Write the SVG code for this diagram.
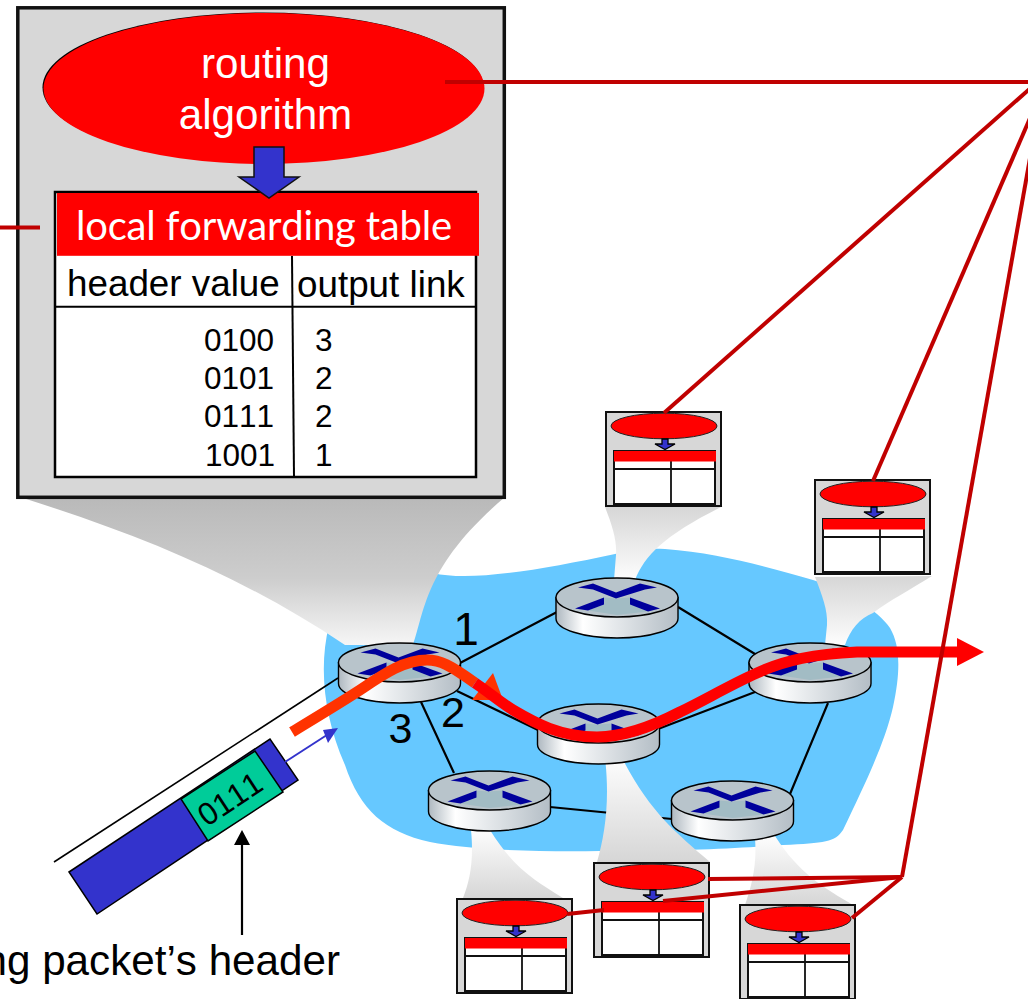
<svg xmlns="http://www.w3.org/2000/svg" xmlns:xlink="http://www.w3.org/1999/xlink" width="1028" height="999" viewBox="0 0 1028 999">
<style>
text{font-family:"Liberation Sans",Arial,sans-serif;fill:#000;font-kerning:none}
.link{stroke:#000;stroke-width:2.2;fill:none}
.ctl{stroke:#c00000;stroke-width:4;fill:none}
.num{font-size:31.5px}
.hdr{font-size:36.8px}
.lbl{font-size:42.2px}
.port{font-size:43px}
.wht{fill:#fff}
</style>
<defs>
<linearGradient id="bigCone" x1="0" y1="0" x2="0" y2="1"><stop offset="0" stop-color="#b9b9b9"/><stop offset=".55" stop-color="#cdcdcd"/><stop offset="1" stop-color="#f6f6f6"/></linearGradient>
<linearGradient id="coneDown" x1="0" y1="0" x2="0" y2="1"><stop offset="0" stop-color="#d6d6d6"/><stop offset="1" stop-color="#fdfdfd"/></linearGradient>
<linearGradient id="coneUp" x1="0" y1="1" x2="0" y2="0"><stop offset="0" stop-color="#d6d6d6"/><stop offset="1" stop-color="#fdfdfd"/></linearGradient>
<linearGradient id="body" x1="0" y1="0" x2="1" y2="0"><stop offset="0" stop-color="#aeb8c0"/><stop offset=".22" stop-color="#ffffff"/><stop offset="1" stop-color="#b3bdc5"/></linearGradient>
<g id="router">
<path d="M-61 0V21A61 19.500 0 0 0 61 21V0Z" fill="url(#body)" stroke="#000" stroke-width="1.400"/>
<ellipse cx="0" cy="0" rx="61" ry="19.500" fill="#b8c4cb" stroke="#000" stroke-width="1.400"/>
<polygon points="-13,0 -1,1 13,0 13,7 31,14 0,17.500 -29,13 -13,7" fill="#a2bcc4"/>
<polygon points="-39,-10 -24,-14 -1,-5 23,-14 40,-10 28,-8 -1,1 -24,-8" fill="#00009c"/>
<polygon points="-42,11 -13,0 -13,7 -29,13" fill="#00009c"/>
<polygon points="13,0 43,11 31,14 13,7" fill="#00009c"/>
</g>
<g id="mini">
<rect x="1" y="1" width="115" height="94" fill="#d7d7d7" stroke="#111" stroke-width="2"/>
<ellipse cx="59" cy="15" rx="53" ry="12.800" fill="#f00" stroke="#222" stroke-width="1"/>
<rect x="9" y="40" width="101" height="53" fill="#fff" stroke="#111" stroke-width="2"/>
<path d="M9 58H110M66 40V93" stroke="#111" stroke-width="1.800" fill="none"/>
<rect x="9" y="40" width="102" height="10.500" fill="#f00"/>
<polygon points="57,28 63,28 63,33 70,33 60,38.500 50,33 57,33" fill="#3333cc" stroke="#000" stroke-width="1.300"/>
</g>
</defs>
<rect width="1028" height="999" fill="#fff"/>

<path id="cloud" d="M433 573C470 582 540 570 615 554C635 549 650 548 665 549C720 553 770 568 813 580C845 590 878 610 890 628C900 645 901 670 893 707C885 742 867 780 843 830C835 842 825 843 783 845C740 848 700 851 600 851C540 852 470 850 430 842C385 832 360 810 345 765C325 720 318 670 329 625Z" fill="#66c8ff"/>

<g id="connectors-links">
<path class="link" d="M460 663L557 612M457 691L538 730M421 702L454 773M678 607L755 654M658 729L755 692M828 703L790 794M550 807L672 819"/>
<path class="link" style="stroke-width:1.600" d="M338 678L54 862"/>
</g>

<g id="cones">
<path d="M20 497C140 535 240 575 345 645H413C425 610 425 565 505 497Z" fill="url(#bigCone)"/>
<path d="M605 507C612 525 617 540 616 555L614 580H635C645 555 665 535 723 506Z" fill="url(#coneDown)"/>
<path d="M815 577C822 595 828 610 827 625L825 645H845C850 630 860 618 873 613C890 600 910 590 932 576Z" fill="url(#coneDown)"/>
<path d="M605 758C610 800 605 835 597 862H710C675 832 650 812 622 758Z" fill="url(#coneUp)"/>
<path d="M471 830C474 860 470 880 463 898H563C535 880 515 870 490 830Z" fill="url(#coneUp)"/>
<path d="M755 838C757 865 752 885 745 905H853C825 888 800 875 775 836Z" fill="url(#coneUp)"/>
</g>

<g id="router-top"><use href="#router" x="617" y="597.500"/></g>
<g id="router-left"><use href="#router" x="399.500" y="662.500"/></g>
<g id="router-right"><use href="#router" x="810" y="662.500"/></g>
<g id="router-center"><use href="#router" x="598.500" y="723.500"/></g>
<g id="router-bottom-left"><use href="#router" x="489.500" y="790.500"/></g>
<g id="router-bottom-right"><use href="#router" x="732.500" y="800.500"/></g>

<g id="labels-ports">
<text x="466" y="645" font-size="46" text-anchor="middle">1</text>
<text x="453" y="727" class="port" text-anchor="middle">2</text>
<text x="400.500" y="743" class="port" text-anchor="middle">3</text>
</g>

<g id="packet-path">
<path d="M292 732C320 715 345 700 363 688C385 673 405 660 427 660C440 660 450 665 475 683" fill="none" stroke="#ff3300" stroke-width="11"/>
<polygon points="493,673 503,700 472,700" fill="#ff3300"/>
<path d="M475 683C490 693 500 702 513 710C535 723 560 737 597 737C625 737 655 725 680 712C705 700 730 685 757 673C785 660 815 654 857 652L958 652" fill="none" stroke="#f00" stroke-width="11"/>
<polygon points="957,638 984,652 957,666" fill="#f00"/>
</g>

<g id="packet">
<polygon points="69,872 270,739 298,780 97,914" fill="#3333cc" stroke="#000" stroke-width="1.500"/>
<polygon points="181,799 255,751 283,792 208,841" fill="#00cc99" stroke="#000" stroke-width="1.500"/>
<text class="num" text-anchor="middle" transform="translate(236 808) rotate(-33.500)">0111</text>
<line x1="285" y1="762" x2="330" y2="733" stroke="#3333cc" stroke-width="2"/>
<polygon points="338,728 323,730 328,743" fill="#3333cc"/>
</g>

<g id="header-label">
<line x1="242" y1="935" x2="242" y2="842" stroke="#000" stroke-width="2.200"/>
<polygon points="242,830 234,845 250,845" fill="#000"/>
<text x="340" y="975" class="lbl" text-anchor="end">ng packet’s header</text>
</g>

<g id="forwarding-box">
<rect x="17.800" y="7.800" width="486.500" height="489.500" fill="#d7d7d7" stroke="#111" stroke-width="3.500"/>
<ellipse cx="263" cy="87.500" rx="220.500" ry="75" fill="#000"/>
<ellipse cx="264" cy="88.500" rx="220.500" ry="75.500" fill="#f00"/>
<text x="265.500" y="78" class="lbl wht" text-anchor="middle">routing</text>
<text x="265.500" y="129" class="lbl wht" text-anchor="middle">algorithm</text>
<rect x="55" y="192" width="421" height="285" fill="#fff" stroke="#000" stroke-width="2.500"/>
<rect x="57" y="193" width="422" height="62.800" fill="#f00"/>
<path d="M292 256L294 477" stroke="#000" stroke-width="2" fill="none"/>
<path d="M55 306.700H476" stroke="#000" stroke-width="2" fill="none"/>
<polygon points="254,147 284,147 284,177 299,177 269,198 239,177 254,177" fill="#3333cc" stroke="#111" stroke-width="1.500"/>
<text x="76" y="239.500" font-size="40" textLength="376" style="font-family:Lato,'Liberation Sans',sans-serif;fill:#fff">local forwarding table</text>
<text x="67" y="296" class="hdr">header value</text>
<text x="297" y="297" class="hdr">output link</text>
<text x="204" y="351" class="num">0100</text><text x="315" y="351" class="num">3</text>
<text x="204" y="389" class="num">0101</text><text x="315" y="389" class="num">2</text>
<text x="204" y="427" class="num">0111</text><text x="315" y="427" class="num">2</text>
<text x="205" y="465.500" class="num">1001</text><text x="315" y="465.500" class="num">1</text>
</g>

<g id="mini-top"><use href="#mini" x="605" y="411"/></g>
<g id="mini-right"><use href="#mini" x="814" y="479"/></g>
<g id="mini-center"><use href="#mini" x="593" y="862"/></g>
<g id="mini-bottom-left"><use href="#mini" x="456" y="898"/></g>
<g id="mini-bottom-right"><use href="#mini" x="739" y="904"/></g>

<g id="connectors">
<path class="ctl" d="M445 82H1040"/>
<path class="ctl" d="M1034 85L664 413"/>
<path class="ctl" d="M1040 95L873 481"/>
<path class="ctl" d="M1035 130L902 877"/>
<path class="ctl" d="M902 877L708 879"/>
<path class="ctl" d="M902 877L663 901"/>
<path class="ctl" d="M604 910L567 914"/>
<path class="ctl" d="M902 877L852 918"/>
<path class="ctl" d="M0 227.500H40"/>
</g>
</svg>
